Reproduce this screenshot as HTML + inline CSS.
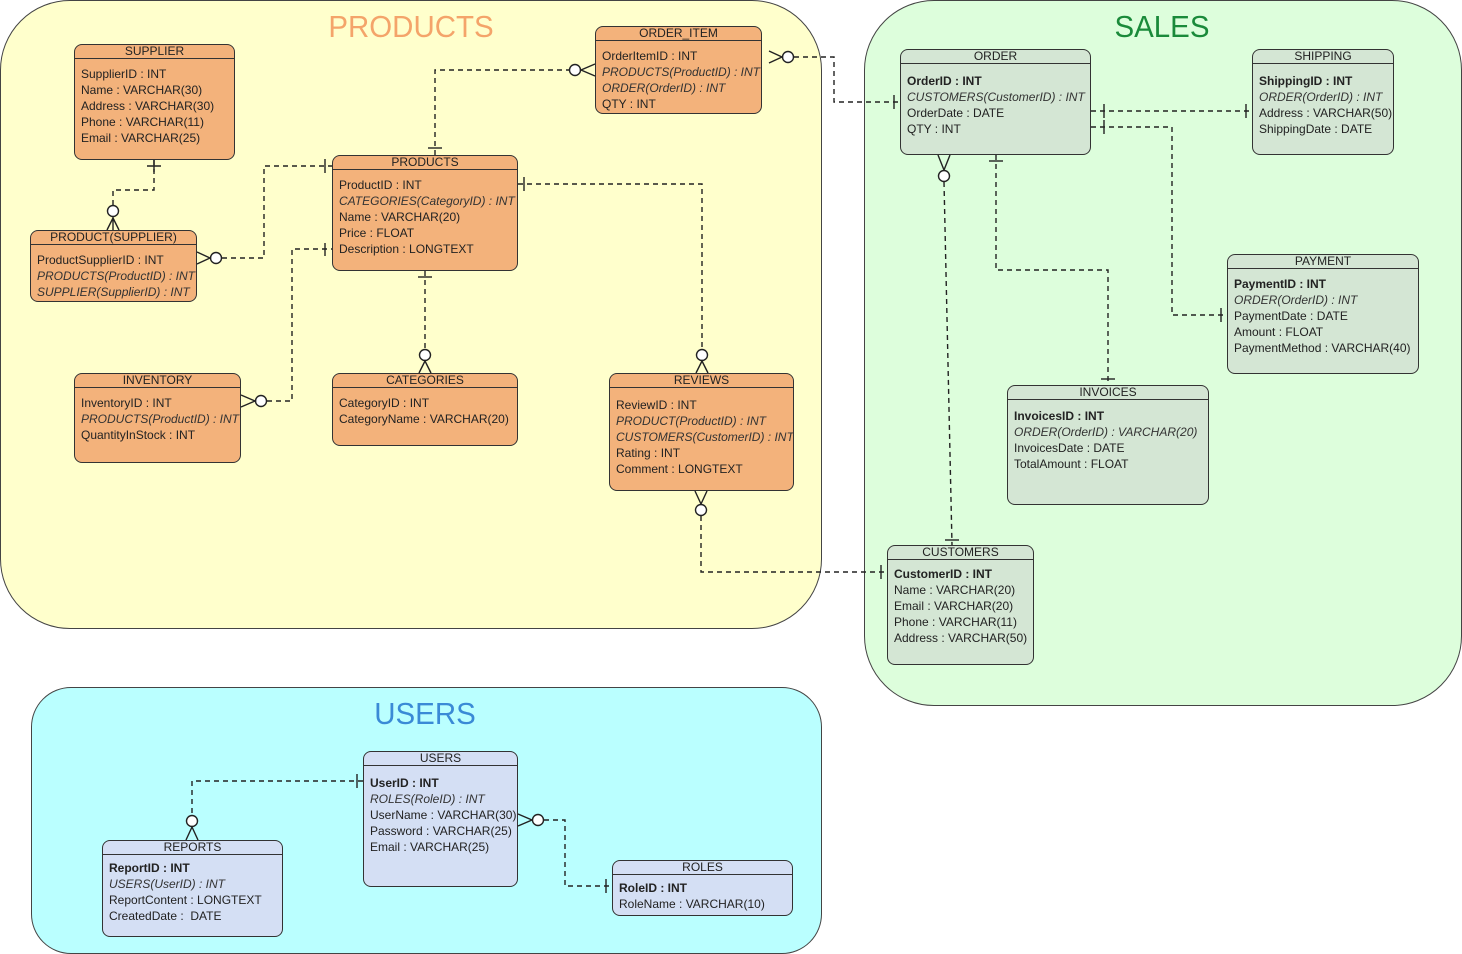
<!DOCTYPE html>
<html><head><meta charset="utf-8"><style>
body{margin:0;width:1462px;height:954px;background:#fff;position:relative;overflow:hidden;font-family:"Liberation Sans",Arial,sans-serif;}
.g{position:absolute;border:1.3px solid #444;border-radius:70px;box-sizing:border-box;}
.gt{position:absolute;font-size:31px;text-align:center;width:300px;transform:scaleX(0.95);}
.e{position:absolute;border:1.5px solid #333;border-radius:8px;box-sizing:border-box;z-index:3;overflow:hidden;}
.o{background:#f3b27b;}.s{background:#d4e6d4;}.u{background:#d4dff4;}
.h{height:13px;border-bottom:1.3px solid #333;text-align:center;font-size:12px;line-height:13px;color:#222;}
.b{padding:7px 6px 0 6px;font-size:12px;line-height:16px;white-space:nowrap;color:#222;}
.i{font-style:italic;color:#333;}
.k{font-weight:bold;}
svg{position:absolute;left:0;top:0;z-index:2;}
</style></head><body>
<div class="g" style="left:0;top:0;width:822px;height:629px;background:#ffffcc;"></div>
<div class="g" style="left:864px;top:0;width:598px;height:706px;background:#ddfedc;"></div>
<div class="g" style="left:31px;top:687px;width:791px;height:267px;background:#baffff;border-radius:40px;"></div>
<div class="gt" style="left:261px;top:9px;color:#f4a46a;">PRODUCTS</div>
<div class="gt" style="left:1012px;top:9px;color:#1a8a3a;">SALES</div>
<div class="gt" style="left:275px;top:696px;color:#3a8ad6;">USERS</div>

<svg width="1462" height="954" fill="none" stroke="#222" stroke-width="1.4">
<g stroke-dasharray="5,4">
<path d="M154 160V190H113V205"/>
<path d="M222 258H264V166H332"/>
<path d="M267 401H292V249H332"/>
<path d="M425 271V349"/>
<path d="M435 155V70H569"/>
<path d="M518 184H702V349"/>
<path d="M794 57H834V102H900"/>
<path d="M944 182L952 545"/>
<path d="M996 155V270H1108V385"/>
<path d="M1091 111H1252"/>
<path d="M1091 127H1172V315H1227"/>
<path d="M701 516V572H887"/>
<path d="M363 781H192V815"/>
<path d="M544 820H565V886H612"/>
</g>
<g>
<path d="M147 166H161M154 160V172"/>
<circle cx="113" cy="211" r="5.5" fill="#fff"/><path d="M107 230L113 218L119 230M113 217V230"/>
<path d="M325 159V173"/>
<circle cx="216" cy="258" r="5.5" fill="#fff"/><path d="M197 252L210 258L197 264"/>
<path d="M325 243V256"/>
<circle cx="261" cy="401" r="5.5" fill="#fff"/><path d="M241 395L255 401L241 407"/>
<path d="M418 277H432"/>
<circle cx="425" cy="355" r="5.5" fill="#fff"/><path d="M419 373L425 361L431 373"/>
<path d="M428 148H442"/>
<circle cx="575" cy="70" r="5.5" fill="#fff"/><path d="M595 64L581 70L595 76"/>
<path d="M524 177V191"/>
<circle cx="702" cy="355" r="5.5" fill="#fff"/><path d="M696 373L702 361L708 373"/>
<circle cx="788" cy="57" r="5.5" fill="#fff"/><path d="M769 51L782 57L769 63"/>
<path d="M894 95V109"/>
<path d="M938 155L944 170L950 155"/><circle cx="944" cy="176" r="5.5" fill="#fff"/>
<path d="M945 540H959"/>
<path d="M989 161H1003"/>
<path d="M1101 379H1115"/>
<path d="M1104 104V118M1246 104V118M1104 120V134M1221 308V322"/>
<path d="M695 491L701 504L707 491"/><circle cx="701" cy="510" r="5.5" fill="#fff"/>
<path d="M881 565V579"/>
<path d="M357 774V788"/>
<circle cx="192" cy="821" r="5.5" fill="#fff"/><path d="M186 840L192 827L198 840"/>
<path d="M518 814L532 820L518 826"/><circle cx="538" cy="820" r="5.5" fill="#fff"/>
<path d="M606 879V893"/>
</g>
</svg>

<div class="e o" style="left:74px;top:44px;width:161px;height:116px;"><div class="h">SUPPLIER</div><div class="b">SupplierID : INT<br>Name : VARCHAR(30)<br>Address : VARCHAR(30)<br>Phone : VARCHAR(11)<br>Email : VARCHAR(25)</div></div>
<div class="e o" style="left:30px;top:230px;width:167px;height:72px;"><div class="h">PRODUCT(SUPPLIER)</div><div class="b">ProductSupplierID : INT<br><span class="i">PRODUCTS(ProductID) : INT</span><br><span class="i">SUPPLIER(SupplierID) : INT</span></div></div>
<div class="e o" style="left:595px;top:26px;width:167px;height:88px;"><div class="h">ORDER_ITEM</div><div class="b">OrderItemID : INT<br><span class="i">PRODUCTS(ProductID) : INT</span><br><span class="i">ORDER(OrderID) : INT</span><br>QTY : INT</div></div>
<div class="e o" style="left:332px;top:155px;width:186px;height:116px;"><div class="h">PRODUCTS</div><div class="b">ProductID : INT<br><span class="i">CATEGORIES(CategoryID) : INT</span><br>Name : VARCHAR(20)<br>Price : FLOAT<br>Description : LONGTEXT</div></div>
<div class="e o" style="left:74px;top:373px;width:167px;height:90px;"><div class="h">INVENTORY</div><div class="b">InventoryID : INT<br><span class="i">PRODUCTS(ProductID) : INT</span><br>QuantityInStock : INT</div></div>
<div class="e o" style="left:332px;top:373px;width:186px;height:73px;"><div class="h">CATEGORIES</div><div class="b">CategoryID : INT<br>CategoryName : VARCHAR(20)</div></div>
<div class="e o" style="left:609px;top:373px;width:185px;height:118px;"><div class="h">REVIEWS</div><div class="b" style="padding-top:9px">ReviewID : INT<br><span class="i">PRODUCT(ProductID) : INT</span><br><span class="i">CUSTOMERS(CustomerID) : INT</span><br>Rating : INT<br>Comment : LONGTEXT</div></div>

<div class="e s" style="left:900px;top:49px;width:191px;height:106px;"><div class="h">ORDER</div><div class="b" style="padding-top:9px"><span class="k">OrderID : INT</span><br><span class="i">CUSTOMERS(CustomerID) : INT</span><br>OrderDate : DATE<br>QTY : INT</div></div>
<div class="e s" style="left:1252px;top:49px;width:142px;height:106px;"><div class="h">SHIPPING</div><div class="b" style="padding-top:9px"><span class="k">ShippingID : INT</span><br><span class="i">ORDER(OrderID) : INT</span><br>Address : VARCHAR(50)<br>ShippingDate : DATE</div></div>
<div class="e s" style="left:1227px;top:254px;width:192px;height:120px;"><div class="h">PAYMENT</div><div class="b" style="padding-top:7px"><span class="k">PaymentID : INT</span><br><span class="i">ORDER(OrderID) : INT</span><br>PaymentDate : DATE<br>Amount : FLOAT<br>PaymentMethod : VARCHAR(40)</div></div>
<div class="e s" style="left:1007px;top:385px;width:202px;height:120px;"><div class="h">INVOICES</div><div class="b" style="padding-top:8px"><span class="k">InvoicesID : INT</span><br><span class="i">ORDER(OrderID) : VARCHAR(20)</span><br>InvoicesDate : DATE<br>TotalAmount : FLOAT</div></div>
<div class="e s" style="left:887px;top:545px;width:147px;height:120px;"><div class="h">CUSTOMERS</div><div class="b" style="padding-top:6px"><span class="k">CustomerID : INT</span><br>Name : VARCHAR(20)<br>Email : VARCHAR(20)<br>Phone : VARCHAR(11)<br>Address : VARCHAR(50)</div></div>

<div class="e u" style="left:363px;top:751px;width:155px;height:136px;"><div class="h">USERS</div><div class="b" style="padding-top:9px"><span class="k">UserID : INT</span><br><span class="i">ROLES(RoleID) : INT</span><br>UserName : VARCHAR(30)<br>Password : VARCHAR(25)<br>Email : VARCHAR(25)</div></div>
<div class="e u" style="left:102px;top:840px;width:181px;height:97px;"><div class="h">REPORTS</div><div class="b" style="padding-top:5px"><span class="k">ReportID : INT</span><br><span class="i">USERS(UserID) : INT</span><br>ReportContent : LONGTEXT<br>CreatedDate :&nbsp; DATE</div></div>
<div class="e u" style="left:612px;top:860px;width:181px;height:56px;"><div class="h">ROLES</div><div class="b" style="padding-top:5px"><span class="k">RoleID : INT</span><br>RoleName : VARCHAR(10)</div></div>
</body></html>
